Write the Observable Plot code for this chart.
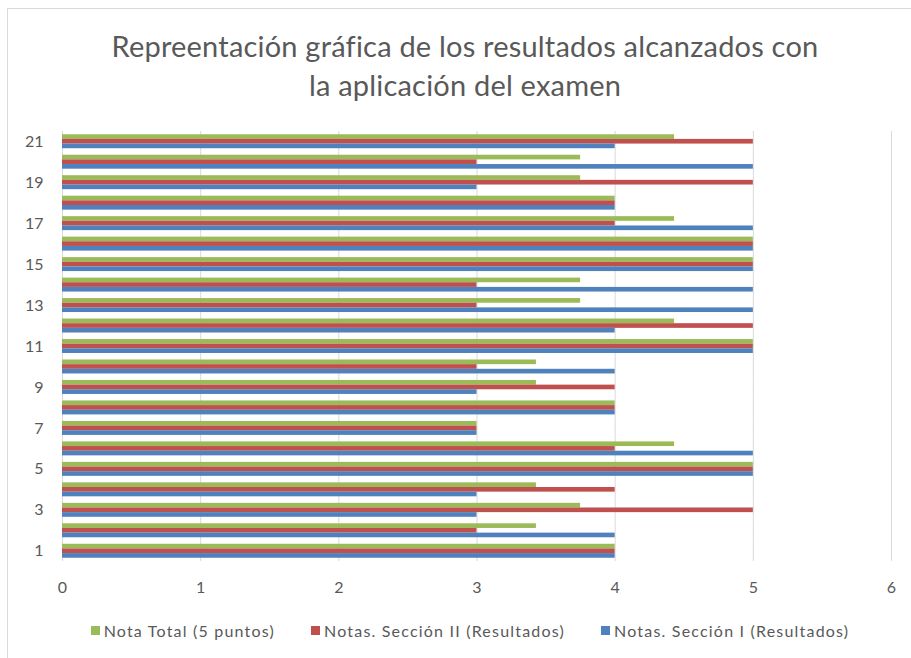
<!DOCTYPE html>
<html>
<head>
<meta charset="utf-8">
<script src="https://cdn.jsdelivr.net/npm/d3@7"></script>
<script src="https://cdn.jsdelivr.net/npm/@observablehq/plot@0.6"></script>
<style>
  html, body { margin: 0; padding: 0; background: #fff; overflow: hidden; }
  body { width: 911px; height: 658px; position: relative; font-family: Lato, "Open Sans", sans-serif; }
  #frame { position: absolute; left: 7px; top: 8px; width: 930px; height: 680px; border: 1px solid #d9d9d9; box-sizing: border-box; }
  #title { position: absolute; left: 0; top: 26px; width: 930px; text-align: center; font-size: 29px; line-height: 39px; letter-spacing: 0.2px; color: #595959; }
  #chart { position: absolute; left: 0; top: 118px; }
  #legend { position: absolute; left: 0; top: 621px; width: 940px; display: flex; justify-content: center; gap: 36px; font-size: 16px; letter-spacing: 1.2px; color: #595959; }
  .item { display: flex; align-items: center; gap: 4px; }
  .sw { width: 9px; height: 9px; display: inline-block; }
</style>
</head>
<body>
<div id="frame"></div>
<div id="title">Repreentación gráfica de los resultados alcanzados con<br>la aplicación del examen</div>
<div id="chart"></div>
<div id="legend"></div>
<script>
const categories = d3.range(1, 22);
const seriesNames = ["Nota Total (5 puntos)", "Notas. Sección II (Resultados)", "Notas. Sección I (Resultados)"];
const seriesColors = ["#9bbb59", "#c0504d", "#4f81bd"];
const seccionI  = [4, 4, 3, 3, 5, 5, 3, 4, 3, 4, 5, 4, 5, 5, 5, 5, 5, 4, 3, 5, 4];
const seccionII = [4, 3, 5, 4, 5, 4, 3, 4, 4, 3, 5, 5, 3, 3, 5, 5, 4, 4, 5, 3, 5];
const notaTotal = [4, 3.43, 3.75, 3.43, 5, 4.43, 3, 4, 3.43, 3.43, 5, 4.43, 3.75, 3.75, 5, 5, 4.43, 4, 3.75, 3.75, 4.43];
const xTicks = [0, 1, 2, 3, 4, 5, 6];

const data = [];
categories.forEach((c, i) => {
  data.push({cat: c, series: seriesNames[0], value: notaTotal[i]});
  data.push({cat: c, series: seriesNames[1], value: seccionII[i]});
  data.push({cat: c, series: seriesNames[2], value: seccionI[i]});
});

const chart = Plot.plot({
  width: 911,
  height: 490,
  marginLeft: 62,
  marginRight: 20,
  marginTop: 13,
  marginBottom: 47,
  style: {fontFamily: "Lato, 'Open Sans', sans-serif", fontSize: "16px", color: "#595959", background: "transparent"},
  x: {domain: [0, 6], ticks: xTicks, tickFormat: d => String(d), tickSize: 0, tickPadding: 20, label: null, grid: false},
  fy: {domain: categories.slice().reverse(), padding: 0, round: false, label: null, tickSize: 0, tickPadding: 19,
       tickFormat: d => (d % 2 === 1 ? String(d) : "")},
  y: {domain: seriesNames, paddingInner: 0, paddingOuter: 0.7, round: false, axis: null},
  color: {domain: seriesNames, range: seriesColors},
  marks: [
    Plot.ruleX(xTicks, {x: d => d, stroke: "#d9d9d9", strokeWidth: 1, strokeOpacity: 1}),
    Plot.barX(data, {fy: "cat", y: "series", x: "value", fill: "series", insetTop: 0, insetBottom: 0})
  ]
});
document.getElementById("chart").appendChild(chart);

const legend = document.getElementById("legend");
seriesNames.forEach((n, i) => {
  const it = document.createElement("div");
  it.className = "item";
  const sw = document.createElement("span");
  sw.className = "sw";
  sw.style.background = seriesColors[i];
  const t = document.createElement("span");
  t.textContent = n;
  it.appendChild(sw); it.appendChild(t);
  legend.appendChild(it);
});
</script>
</body>
</html>
